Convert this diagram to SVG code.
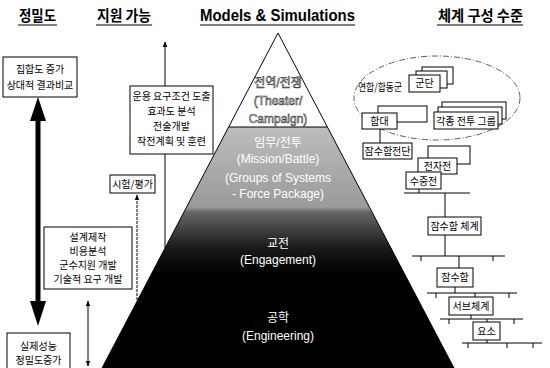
<svg xmlns="http://www.w3.org/2000/svg" width="550" height="368" viewBox="0 0 550 368">
<defs>
<style>
.hd{font-family:"Noto Sans CJK KR","Noto Sans",sans-serif;font-weight:bold;font-size:15px;fill:#000}
.hde{font-family:"Liberation Sans",Arial,sans-serif;font-weight:bold;font-size:16px;fill:#000}
.t{font-family:"Noto Sans CJK KR","Noto Sans",sans-serif;font-size:10px;fill:#000;text-anchor:middle}
.pw{font-family:"Liberation Sans","Noto Sans CJK KR",sans-serif;font-size:12px;fill:#fff;text-anchor:middle}
.pt{font-family:"Liberation Sans","Noto Sans CJK KR",sans-serif;font-size:12px;fill:#fff;stroke:#333;stroke-width:0.6;text-anchor:middle}
.box{fill:#fff;stroke:#000;stroke-width:1}
.ln{stroke:#000;stroke-width:1;fill:none}
</style>
<linearGradient id="pg" x1="0" y1="33" x2="0" y2="368" gradientUnits="userSpaceOnUse">
<stop offset="0" stop-color="#fff"/>
<stop offset="0.28" stop-color="#fff"/>
<stop offset="0.281" stop-color="#bdbdbd"/>
<stop offset="0.52" stop-color="#9a9a9a"/>
<stop offset="0.535" stop-color="#666"/>
<stop offset="0.64" stop-color="#1a1a1a"/>
<stop offset="0.72" stop-color="#000"/>
<stop offset="1" stop-color="#000"/>
</linearGradient>
<marker id="ah" viewBox="0 0 10 10" refX="9" refY="5" markerWidth="6" markerHeight="6" orient="auto-start-reverse"><path d="M0,1 L10,5 L0,9 z" fill="#000"/></marker>
</defs>
<rect width="550" height="368" fill="#fff"/>

<g id="headers">
<text class="hd" x="19" y="21" textLength="37" lengthAdjust="spacingAndGlyphs">정밀도</text>
<line class="ln" x1="18" y1="25" x2="57" y2="25" stroke-width="1.5"/>
<text class="hd" x="97" y="21" textLength="54" lengthAdjust="spacingAndGlyphs">지원 가능</text>
<line class="ln" x1="96" y1="25" x2="152" y2="25" stroke-width="1.5"/>
<text class="hde" x="200" y="21" textLength="155" lengthAdjust="spacingAndGlyphs">Models &amp; Simulations</text>
<line class="ln" x1="200" y1="25" x2="355" y2="25" stroke-width="1.5"/>
<text class="hd" x="438" y="21" textLength="85" lengthAdjust="spacingAndGlyphs">체계 구성 수준</text>
<line class="ln" x1="437" y1="25" x2="523" y2="25" stroke-width="1.5"/>
</g>

<g id="pyramid">
<polygon points="278,33 101,370 455,370" fill="url(#pg)" stroke="#000" stroke-width="1"/>
<line class="ln" x1="229" y1="127" x2="327" y2="127" stroke="#777"/>
<text class="pt" x="278" y="87">전역/전쟁</text>
<text class="pt" x="278" y="105">(Theater/</text>
<text class="pt" x="278" y="123">Campaign)</text>
<text class="pw" x="278" y="147">임무/전투</text>
<text class="pw" x="278" y="163">(Mission/Battle)</text>
<text class="pw" x="278" y="182">(Groups of Systems</text>
<text class="pw" x="278" y="198">- Force Package)</text>
<text class="pw" x="278" y="248">교전</text>
<text class="pw" x="278" y="264">(Engagement)</text>
<text class="pw" x="278" y="322">공학</text>
<text class="pw" x="278" y="340">(Engineering)</text>
</g>

<g id="n-fidelity-top">
<rect class="box" x="3" y="57" width="74" height="40"/>
<text class="t" x="40" y="73">집합도 증가</text>
<text class="t" x="40" y="89">상대적 결과비교</text>
</g>
<g id="n-fidelity-bottom">
<rect class="box" x="7" y="333" width="63" height="40"/>
<text class="t" x="38.5" y="350">실제성능</text>
<text class="t" x="38.5" y="364">정밀도증가</text>
</g>
<g id="n-ops">
<rect class="box" x="130" y="86" width="83" height="68"/>
<text class="t" x="171.5" y="100">운용 요구조건 도출</text>
<text class="t" x="171.5" y="115">효과도 분석</text>
<text class="t" x="171.5" y="130">전술개발</text>
<text class="t" x="171.5" y="145">작전계획 및 훈련</text>
</g>
<g id="n-test">
<rect class="box" x="110" y="175" width="45" height="18"/>
<text class="t" x="132.5" y="188">시험/평가</text>
</g>
<g id="n-design">
<rect class="box" x="44" y="227" width="88" height="62"/>
<text class="t" x="88" y="241">설계제작</text>
<text class="t" x="88" y="255">비용분석</text>
<text class="t" x="88" y="269">군수지원 개발</text>
<text class="t" x="88" y="283">기술적 요구 개발</text>
</g>

<g id="n-joint">
<ellipse cx="437" cy="98" rx="83" ry="42" fill="none" stroke="#333" stroke-width="0.8" stroke-dasharray="6 2 1 2"/>
<text class="t" x="380" y="91" textLength="44" lengthAdjust="spacingAndGlyphs">연합/합동군</text>
</g>
<g id="n-corps">
<rect class="box" x="422" y="67" width="31" height="17"/>
<rect class="box" x="416" y="71" width="31" height="17"/>
<rect class="box" x="409" y="75" width="31" height="17"/>
<text class="t" x="424.5" y="87">군단</text>
</g>
<g id="n-fleet">
<rect class="box" x="378" y="106" width="49" height="16"/>
<rect class="box" x="362" y="113" width="35" height="16"/>
<text class="t" x="379.5" y="125">함대</text>
</g>
<g id="n-groups">
<rect class="box" x="442" y="102" width="64" height="17"/>
<rect class="box" x="438" y="107" width="64" height="17"/>
<rect class="box" x="434" y="112" width="64" height="17"/>
<text class="t" x="466" y="124.5">각종 전투 그룹</text>
</g>
<g id="n-subflot">
<rect class="box" x="363" y="143" width="49" height="16"/>
<text class="t" x="387.5" y="155">잠수함전단</text>
</g>
<g id="n-ew">
<rect class="box" x="428" y="146" width="42" height="18"/>
<rect class="box" x="418" y="158" width="39" height="16"/>
<text class="t" x="437.5" y="170">전자전</text>
</g>
<g id="n-usw">
<rect class="box" x="406" y="172" width="35" height="17"/>
<text class="t" x="423.5" y="184.5">수중전</text>
</g>
<g id="n-subsys">
<rect class="box" x="428" y="217" width="53" height="18"/>
<text class="t" x="454.5" y="230">잠수함 체계</text>
</g>
<g id="n-sub">
<rect class="box" x="437" y="268" width="36" height="19"/>
<text class="t" x="455" y="281">잠수함</text>
</g>
<g id="n-subsystem">
<rect class="box" x="449" y="297" width="44" height="18" fill="#e4e4e4"/>
<text class="t" x="471" y="310">서브체계</text>
</g>
<g id="n-comp">
<rect class="box" x="473" y="322" width="27" height="18" fill="#e4e4e4"/>
<text class="t" x="486.5" y="335">요소</text>
</g>

<g id="connectors">
<line x1="38" y1="118" x2="38" y2="306" stroke="#000" stroke-width="5"/>
<polygon points="38,97 30,121 46,121" fill="#000"/>
<polygon points="38,326 30,301 46,301" fill="#000"/>
<line class="ln" x1="165" y1="86" x2="165" y2="42" marker-end="url(#ah)"/>
<line class="ln" x1="165" y1="154" x2="165" y2="248"/>
<line class="ln" x1="137" y1="300" x2="137" y2="195" stroke-dasharray="3 1" marker-end="url(#ah)"/>
<line class="ln" x1="88" y1="301" x2="88" y2="366" marker-start="url(#ah)" marker-end="url(#ah)"/>
<line class="ln" x1="380" y1="129" x2="380" y2="143"/>
<line class="ln" x1="404" y1="193" x2="470" y2="193"/>
<line class="ln" x1="419" y1="189" x2="419" y2="193"/>
<line class="ln" x1="445" y1="193" x2="445" y2="217"/>
<line class="ln" x1="445" y1="235" x2="445" y2="256"/>
<line class="ln" x1="412" y1="256" x2="505" y2="256"/>
<line class="ln" x1="421" y1="256" x2="421" y2="261"/>
<line class="ln" x1="493" y1="256" x2="493" y2="261"/>
<line class="ln" x1="459" y1="256" x2="459" y2="268"/>
<line class="ln" x1="455" y1="287" x2="455" y2="293"/>
<line class="ln" x1="427" y1="293" x2="517" y2="293"/>
<line class="ln" x1="436" y1="293" x2="436" y2="298"/>
<line class="ln" x1="509" y1="293" x2="509" y2="298"/>
<line class="ln" x1="475" y1="293" x2="475" y2="297"/>
<line class="ln" x1="471" y1="315" x2="471" y2="319"/>
<line class="ln" x1="440" y1="319" x2="523" y2="319"/>
<line class="ln" x1="449" y1="319" x2="449" y2="324"/>
<line class="ln" x1="514" y1="319" x2="514" y2="324"/>
<line class="ln" x1="487" y1="319" x2="487" y2="322"/>
<line class="ln" x1="487" y1="340" x2="487" y2="343"/>
<line class="ln" x1="462" y1="343" x2="542" y2="343"/>
<line class="ln" x1="468" y1="343" x2="468" y2="348"/>
<line class="ln" x1="507" y1="343" x2="507" y2="348"/>
<line class="ln" x1="533" y1="343" x2="533" y2="348"/>
</g>
</svg>
